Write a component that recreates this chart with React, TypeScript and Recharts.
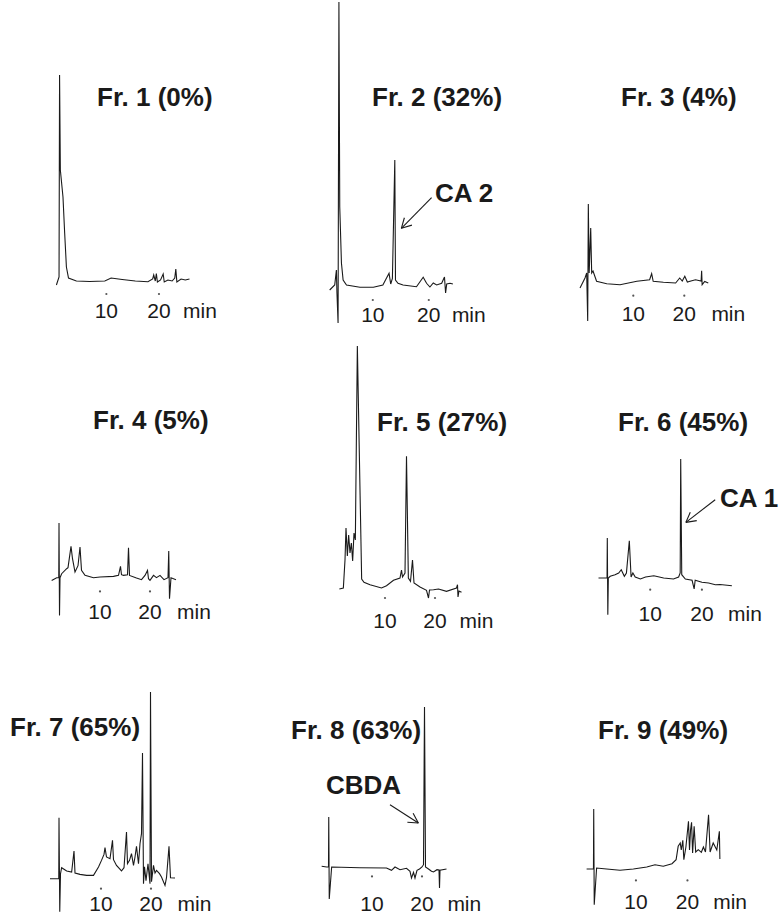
import React from "react";
import { LineChart, Line, XAxis, YAxis, ReferenceLine } from "recharts";

// HPLC traces of the nine fractions: [retention time (min), detector signal (a.u.)]
const FRACTIONS = [
  "Fr. 1 (0%)", "Fr. 2 (32%)", "Fr. 3 (4%)",
  "Fr. 4 (5%)", "Fr. 5 (27%)", "Fr. 6 (45%)",
  "Fr. 7 (65%)", "Fr. 8 (63%)", "Fr. 9 (49%)",
];
const TICKS = [10, 20];
const UNIT = "min";

const FR1: [number, number][] = [
  [0.5, -5], [1.0, 3], [1.1, 205], [1.25, 110], [1.75, 83], [2.07, 47], [2.4, 13], [2.8, 2],
  [4.3, -1], [6.8, -1.5], [9.7, -1], [10.9, 2], [13, 0.5], [15.5, -1], [17.9, -1.7], [18.8, 1],
  [19.0, 5], [19.3, -1], [19.5, 6.5], [19.7, -2], [20.3, 0], [20.8, 6], [21.0, -2], [21.7, 0],
  [22.5, -1], [23.0, 2], [23.2, 11], [23.4, -2], [24.2, 1], [25.0, 0], [25.8, 1],
];
const FR2: [number, number][] = [
  [2.3, -3], [3.2, 2], [3.5, 17], [3.6, -6], [3.8, -36], [3.95, 285], [4.1, 80], [4.4, 24],
  [4.7, 7], [5.3, 2], [7.7, -0.3], [10.1, -0.3], [11.8, 2], [12.9, 13.7], [13.2, 3], [13.5, 8.7],
  [13.93, 127], [14.05, 7], [14.5, 3.7], [15.4, 2], [17.8, 0.3], [19, 9.7], [19.6, 3.7], [20.2, 0],
  [20.8, 4], [21.4, 2], [22.3, 3.7], [22.8, 10], [23.0, -6], [23.2, 3], [23.8, 3.7], [24.3, 3],
];
const FR3: [number, number][] = [
  [-0.45, -5], [0.53, 5], [0.86, 10], [1.06, -38], [1.18, 79], [1.35, 10], [1.65, 55], [1.84, 10],
  [2.1, 12], [2.8, 1.7], [4.8, -0.7], [7.4, -1.7], [10.7, 1.7], [13.2, 3.3], [13.6, 9.3], [13.9, 1.7],
  [15.9, 0.7], [18.3, 0], [19.1, 5], [19.6, 2], [20.1, 6.7], [20.6, 1], [21.3, 2], [22.2, 3.3],
  [23.3, 2], [23.4, 12.3], [23.5, -1.7], [24.0, 1.5], [24.7, 0],
];
const FR4: [number, number][] = [
  [0.33, -2.7], [1.33, 0], [1.75, 0], [1.8, 54.7], [1.9, -37.7], [2.0, 0], [2.33, 4], [3.33, 9], [3.6, 10],
  [4.2, 31.3], [4.5, 19], [5.0, 5.7], [5.6, 12], [6.0, 30.7], [6.3, 7.3], [7.0, 2.3], [8.7, 0],
  [10, 0.7], [12.7, 1.3], [13.7, 2.3], [14.1, 11.3], [14.3, 3], [14.7, 2.3], [15.5, 3], [15.7, 30],
  [15.9, 2.3], [17.3, -0.3], [18.3, -2], [19, 2.3], [19.5, 7.3], [19.7, -1], [20, -2.7], [20.7, 2.3],
  [21.3, 0], [22, 2.3], [22.8, -2], [23.6, 0], [23.75, 26.7], [23.9, -21], [24.2, 0], [25.2, -2],
];
const FR5: [number, number][] = [
  [0.87, 0], [1.67, 1], [2.0, 29], [2.2, 61], [2.47, 33], [2.73, 54], [3.0, 36], [3.27, 46],
  [3.53, 28], [3.8, 56], [4.07, 49], [4.47, 243], [5.33, 10], [5.8, 6.7], [7.0, 4.3], [9.3, 1],
  [10.3, 3.3], [11.7, 8.7], [13.0, 11], [13.3, 19], [13.5, 12], [14.0, 16], [14.3, 132.7], [14.67, 11],
  [15.1, 7.7], [15.5, 29], [15.8, 6], [17, 2], [18.3, -1.3], [18.7, -9], [18.9, -1], [19.7, -0.7],
  [20.7, 0], [22.3, -2.3], [24.3, 1], [24.5, 4.3], [24.6, -8], [24.8, -2], [25.3, -3.3],
];
const FR6: [number, number][] = [
  [0, 0], [0.97, 0], [1.65, 0], [1.7, 40], [1.8, -36.7], [1.9, 0], [2.26, 1.7], [3.2, 3.3], [3.9, 5],
  [4.4, 8.3], [5.0, 1.7], [5.4, 5], [5.96, 37.3], [6.3, 1], [6.65, 5], [7.1, 1], [8.1, -1],
  [9.1, 1], [10.7, 2.3], [12.6, 0], [14.5, -1], [15.5, 1], [15.8, 5], [15.9, 119], [16.1, 3.3],
  [16.8, -1], [18.1, -2.3], [18.5, -11], [18.7, -2.3], [20, -4.3], [21.3, -5], [22.6, -6.7],
  [23.5, -6.5], [25.8, -7.7],
];
const FR7: [number, number][] = [
  [-0.2, 0], [1, 0], [1.55, 0], [1.6, 61], [1.75, -33], [1.9, 5], [2.13, 11], [3.13, 7.7], [4.13, 6.7],
  [4.6, 27.7], [4.8, 5.7], [5.8, 4.3], [7.13, 3.3], [8.5, 3.3], [9.5, 11.7], [10.1, 18.3], [10.6, 24.3],
  [10.8, 31], [11.1, 21.7], [11.8, 20], [12.3, 38.3], [12.5, 19], [13.1, 13.3], [14.1, 7.7], [14.6, 11],
  [15.1, 46.7], [15.3, 15], [15.7, 18.3], [16.1, 25], [16.5, 13.3], [16.8, 21.7], [17.1, 32.3], [17.5, 15],
  [17.8, 35], [18.1, 45], [18.3, 125.7], [18.5, -5], [18.7, 12], [19.0, -2], [19.4, 15], [19.8, -5],
  [19.9, 186.7], [20.1, -3], [20.5, 13.3], [20.8, 5.7], [21.1, 8.3], [21.7, 5], [22.1, 1.7], [22.8, -6.7],
  [23.1, 1], [23.6, 32.3], [23.9, 1], [24.8, 0.7],
];
const FR8: [number, number][] = [
  [-0.07, 0.7], [0.93, 0], [1.3, 0], [1.35, 50], [1.45, -32], [1.93, 0], [7.6, -0.7], [12.9, -1], [13.9, -3.3],
  [14.6, 0], [15.6, -2.7], [16.9, -1.3], [17.6, -4.3], [17.9, -11], [18.3, -5.3], [18.6, -11], [19, -3.3],
  [19.5, -2], [20, 0], [20.3, 2.3], [20.5, 160], [20.7, 0], [21.3, -2], [21.9, -4.3], [22.3, -5],
  [23, -2.7], [23.4, -3], [23.5, -21], [23.6, -3.3], [24.9, -2],
];
const FR9: [number, number][] = [
  [0.42, 0], [1.75, 0], [1.8, 60], [1.9, -35.7], [2.36, 1], [4.3, 0], [6.9, -1.3], [9.5, 0], [12.1, 2],
  [13.7, 4.3], [15.3, 2.7], [17.0, 5.3], [17.8, 9.3], [18.2, 22.7], [18.6, 26], [18.8, 19], [19.1, 28.7],
  [19.3, 9.3], [19.7, 22], [20.2, 47.7], [20.4, 19], [20.6, 39], [20.8, 46.7], [21.0, 16], [21.3, 42.7],
  [21.6, 17], [22.1, 19.3], [22.7, 16.7], [23.1, 22], [23.5, 17], [24.1, 54.3], [24.4, 17], [25.0, 26],
  [25.7, 19], [26.2, 37.7], [26.3, 10],
];
const SERIES = [FR1, FR2, FR3, FR4, FR5, FR6, FR7, FR8, FR9];

// peak labels: tail / tip of the arrow in [min, signal]
const PEAKS = [
  { panel: 1, text: "CA 2", tail: [20.5, 89.3], tip: [15.1, 58.7] },
  { panel: 5, text: "CA 1", tail: [22.57, 78.3], tip: [16.9, 55.6] },
  { panel: 7, text: "CBDA", tail: [13.6, 62.3], tip: [19.27, 44] },
];

// layout: x0 = page x of 0 min, sx = px per min, base = page y of zero signal
const LAYOUT = [
  { x0: 54.1, sx: 5.26, base: 280, dotY: 294, labY: 318, minDx: 41, title: [97, 106] },
  { x0: 317, sx: 5.6, base: 287, dotY: 300, labY: 322, minDx: 40, title: [372, 106] },
  { x0: 582.3, sx: 5.1, base: 283.3, dotY: 296, labY: 321, minDx: 44, title: [621, 106] },
  { x0: 50, sx: 5.0, base: 577.3, dotY: 591, labY: 619, minDx: 44, title: [93, 429.3] },
  { x0: 335, sx: 5.0, base: 589.3, dotY: 598.3, labY: 628, minDx: 41.5, title: [377, 430.7] },
  { x0: 598.3, sx: 5.17, base: 578.3, dotY: 590, labY: 621.7, minDx: 43, title: [618, 430.7] },
  { x0: 51, sx: 5.0, base: 878.3, dotY: 888.3, labY: 911, minDx: 43.5, title: [10, 736] },
  { x0: 322, sx: 5.0, base: 867.3, dotY: 876.7, labY: 911, minDx: 42.3, title: [291, 739.3] },
  { x0: 584.5, sx: 5.15, base: 869.3, dotY: 880.7, labY: 909, minDx: 42.7, title: [598, 739.3] },
];
const PEAK_TEXT_AT = [[435, 202], [720, 506.7], [326, 794]];

const FONT = "'Liberation Sans', Arial, Helvetica, sans-serif";
const INK = "#1a1a1a";
const T_MIN = -3;
const T_MAX = 33;
const AX = 6;

function arrowSegments(tail: number[], tip: number[], sx: number) {
  const dx = (tip[0] - tail[0]) * sx;
  const dy = -(tip[1] - tail[1]);
  const len = Math.hypot(dx, dy);
  const ux = dx / len;
  const uy = dy / len;
  const segs = [[{ x: tail[0], y: tail[1] }, { x: tip[0], y: tip[1] }]];
  for (const s of [1, -1]) {
    const a = s * 0.5;
    const bx = -(ux * Math.cos(a) - uy * Math.sin(a)) * 11;
    const by = -(ux * Math.sin(a) + uy * Math.cos(a)) * 11;
    segs.push([{ x: tip[0], y: tip[1] }, { x: tip[0] + bx / sx, y: tip[1] - by }]);
  }
  return segs;
}

function Panel({ idx }: { idx: number }) {
  const p = LAYOUT[idx];
  const data = SERIES[idx].map(([t, v]) => ({ t, v }));
  const vMax = Math.max(...data.map((d) => d.v));
  const left = p.x0 + T_MIN * p.sx;
  const width = (T_MAX - T_MIN) * p.sx;
  const top = p.base - vMax - 12;
  const plotBottom = p.base + 50;
  const height = plotBottom - top + AX;
  const peaks = PEAKS.filter((k) => k.panel === idx);

  const renderTick = (props: any) => {
    const { x, y, payload } = props;
    const dotDy = p.dotY - plotBottom;
    const labDy = p.labY - plotBottom;
    return (
      <g>
        <circle cx={x} cy={y + dotDy} r={1.1} fill="#555" />
        <text x={x} y={y + labDy} textAnchor="middle" fontSize={21} fontFamily={FONT} fill={INK}>
          {payload.value}
        </text>
        {payload.value === TICKS[TICKS.length - 1] && (
          <text x={x + p.minDx} y={y + labDy} textAnchor="middle" fontSize={21} fontFamily={FONT} fill={INK}>
            {UNIT}
          </text>
        )}
      </g>
    );
  };

  return (
    <div style={{ position: "absolute", left, top, width, height }}>
      <LineChart width={width} height={height} data={data} margin={{ top: 0, right: 0, bottom: 0, left: 0 }}>
        <XAxis
          dataKey="t"
          type="number"
          domain={[T_MIN, T_MAX]}
          allowDataOverflow
          ticks={TICKS}
          interval={0}
          axisLine={false}
          tickLine={false}
          tickSize={0}
          tickMargin={0}
          height={AX}
          tick={renderTick}
        />
        <YAxis hide type="number" domain={[p.base - plotBottom, p.base - top]} allowDataOverflow />
        <Line
          dataKey="v"
          type="linear"
          stroke={INK}
          strokeWidth={1.1}
          dot={false}
          activeDot={false}
          isAnimationActive={false}
        />
        {peaks.flatMap((k, j) =>
          arrowSegments(k.tail, k.tip, p.sx).map((seg, i) => (
            <ReferenceLine key={`a${j}-${i}`} segment={seg} stroke={INK} strokeWidth={1.1} ifOverflow="visible" />
          ))
        )}
      </LineChart>
    </div>
  );
}

const titleStyle = (x: number, baseline: number): React.CSSProperties => ({
  position: "absolute",
  left: x,
  top: baseline - 22,
  fontFamily: FONT,
  fontWeight: 700,
  fontSize: 26,
  lineHeight: "26px",
  color: INK,
  whiteSpace: "nowrap",
});

export default function App() {
  return (
    <div
      style={{
        position: "absolute",
        left: 0,
        top: 0,
        width: 779,
        height: 916,
        overflow: "hidden",
        background: "#fff",
      }}
    >
      {LAYOUT.map((_, i) => (
        <Panel key={i} idx={i} />
      ))}
      {FRACTIONS.map((name, i) => (
        <div key={name} style={titleStyle(LAYOUT[i].title[0], LAYOUT[i].title[1])}>
          {name}
        </div>
      ))}
      {PEAKS.map((k, i) => (
        <div key={k.text} style={titleStyle(PEAK_TEXT_AT[i][0], PEAK_TEXT_AT[i][1])}>
          {k.text}
        </div>
      ))}
    </div>
  );
}
